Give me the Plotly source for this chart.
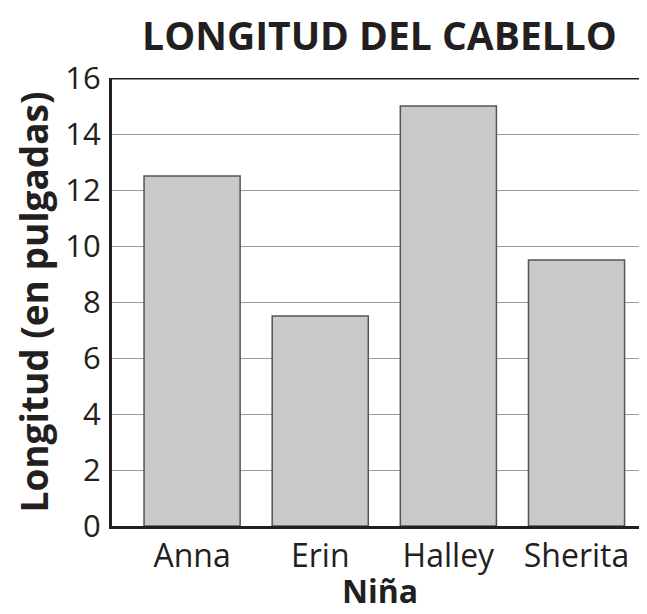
import plotly.graph_objects as go

categories = ["Anna", "Erin", "Halley", "Sherita"]
values = [12.5, 7.5, 15, 9.5]
y_ticks = [0, 2, 4, 6, 8, 10, 12, 14, 16]

font = "Open Sans"
dark = "#231f20"

fig = go.Figure(go.Bar(
    x=list(range(len(categories))), y=values, width=0.75,
    marker=dict(color="#c8c9cb", line=dict(color="#555555", width=1.5)),
))

# page body has an 8px margin, so the figure starts at (8, 8)
W, H = 639, 606
fig.update_layout(
    width=W, height=H,
    margin=dict(l=104, r=0, t=70, b=88),
    paper_bgcolor="white", plot_bgcolor="white",
    showlegend=False,
    title=dict(text="<b>LONGITUD DEL CABELLO</b>", x=0.5, xref="paper", xanchor="center",
               y=1 - 28 / H, yanchor="middle",
               font=dict(family=font, size=39, color=dark)),
    xaxis=dict(
        range=[-0.625, 3.55], tickmode="array",
        tickvals=list(range(len(categories))), ticktext=categories,
        showgrid=False, showline=True, linecolor=dark, linewidth=3,
        ticks="", tickfont=dict(family=font, size=32, color=dark),
        zeroline=False,
    ),
    yaxis=dict(
        range=[0, 16], tickmode="array", tickvals=y_ticks,
        showgrid=True, gridcolor="#9a9a9a", gridwidth=1,
        showline=True, linecolor=dark, linewidth=3,
        ticks="", ticklabelstandoff=2,
        tickfont=dict(family=font, size=31, color=dark),
        title=dict(text="<b>Longitud (en pulgadas)</b>", font=dict(family=font, size=37, color=dark), standoff=13),
        zeroline=False,
    ),
    annotations=[dict(text="<b>Niña</b>", xref="paper", yref="paper", x=0.5, y=-64 / 448,
                      xanchor="center", yanchor="middle", showarrow=False,
                      font=dict(family=font, size=32, color=dark))],
    shapes=[dict(type="line", xref="paper", yref="y", x0=0, x1=1, y0=16, y1=16,
                 line=dict(color=dark, width=3))],
)

fig.write_html("out.html")
